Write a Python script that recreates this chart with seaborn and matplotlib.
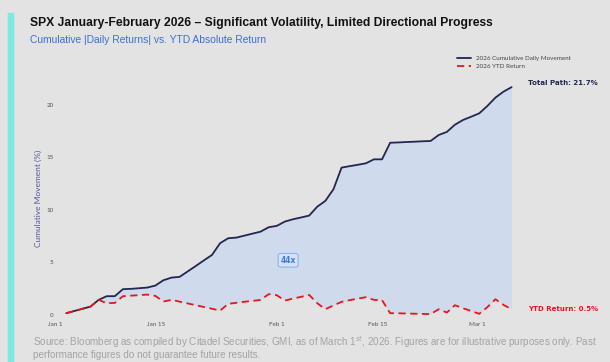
import numpy as np
import pandas as pd
import matplotlib
matplotlib.use("Agg")
import matplotlib.pyplot as plt
import seaborn as sns

# --- data (one point per session) ---
cum_move = [0.16, 0.37, 0.58, 0.79, 1.43, 1.78, 1.78, 2.45, 2.48, 2.54,
            2.60, 2.79, 3.30, 3.55, 3.62, 4.14, 4.66, 5.19, 5.71, 6.83,
            7.30, 7.36, 7.55, 7.74, 7.93, 8.35, 8.48, 8.89, 9.11, 9.28,
            9.46, 10.31, 10.86, 11.97, 14.03, 14.17, 14.30, 14.44, 14.82, 14.82,
            16.40, 16.43, 16.47, 16.50, 16.54, 16.57, 17.14, 17.43, 18.12, 18.57,
            18.88, 19.20, 19.90, 20.70, 21.27, 21.70]
ytd_ret = [0.16, 0.37, 0.58, 0.79, 1.43, 1.11, 1.14, 1.78, 1.83, 1.88,
           1.93, 1.81, 1.27, 1.43, 1.26, 1.09, 0.92, 0.75, 0.58, 0.41,
           1.05, 1.15, 1.25, 1.33, 1.43, 1.97, 1.87, 1.36, 1.55, 1.72,
           1.90, 1.11, 0.54, 0.90, 1.24, 1.40, 1.55, 1.68, 1.43, 1.40,
           0.16, 0.15, 0.13, 0.11, 0.09, 0.07, 0.54, 0.22, 0.92, 0.63,
           0.37, 0.10, 0.73, 1.49, 0.95, 0.54]
tick_pos = [-1.32, 11.04, 26.0, 38.5, 50.8]
tick_labels = ["Jan 1", "Jan 15", "Feb 1", "Feb 15", "Mar 1"]
y_ticks = [0, 5, 10, 15, 20]
ratio_label = "44x"

df = pd.DataFrame({"idx": np.arange(len(cum_move)), "cum": cum_move, "ytd": ytd_ret})

BG = "#e3e3e3"
NAVY = "#23264f"
RED = "#e8161b"

sns.set_theme(style="white")
plt.rcParams["font.family"] = ["Liberation Sans", "DejaVu Sans"]

fig = plt.figure(figsize=(6.1, 3.62), dpi=100, facecolor=BG)
ax = fig.add_axes([0.090, 0.1215, 0.754, 0.661])
ax.set_facecolor(BG)

# shaded gap between the two series
ax.fill_between(df["idx"], df["ytd"], df["cum"], color="#c9d7f0", alpha=0.75, lw=0)

sns.lineplot(data=df, x="idx", y="cum", ax=ax, color=NAVY, lw=1.3,
             label="2026 Cumulative Daily Movement", legend=False)
sns.lineplot(data=df, x="idx", y="ytd", ax=ax, color=RED, lw=1.3,
             linestyle=(0, (4, 2.5)), label="2026 YTD Return", legend=False)

ax.set_xlim(-1.4, 55.4)
ax.set_ylim(-0.3, 22.5)
for s in ax.spines.values():
    s.set_visible(False)

ax.set_xticks(tick_pos)
ax.set_xticklabels(tick_labels, family="Lato", fontsize=4.5, color="#555555")
ax.set_yticks(y_ticks)
ax.set_yticklabels([str(t) for t in y_ticks], family="Lato", fontsize=4.5, color="#555555")
ax.tick_params(axis="x", length=0, pad=3)
ax.tick_params(axis="y", length=0, pad=1)
ax.set_xlabel("")
ax.set_ylabel("Cumulative Movement (%)", family="Lato", fontsize=6, color="#55559a", labelpad=3)

handles, labels = ax.get_legend_handles_labels()
leg = fig.legend(handles, labels, loc="upper left", bbox_to_anchor=(0.745, 0.852), frameon=False,
                 prop={"family": "Lato", "size": 4.5}, handlelength=2.3,
                 labelspacing=0.3, handletextpad=0.8, borderaxespad=0)
for t in leg.get_texts():
    t.set_color("#444444")

last = len(cum_move) - 1
ax.annotate(f"Total Path: {cum_move[-1]:.1f}%", (last, cum_move[-1]), xytext=(12, 1),
            textcoords="offset points", fontsize=5, fontweight="bold", family="DejaVu Sans",
            color=NAVY, va="bottom", annotation_clip=False)
ax.annotate(f"YTD Return: {ytd_ret[-1]:.1f}%", (last, ytd_ret[-1]), xytext=(12, 0),
            textcoords="offset points", fontsize=5, fontweight="bold", family="DejaVu Sans",
            color=RED, va="center", annotation_clip=False)

ax.text(27.4, 5.2, ratio_label, fontsize=5.5, fontweight="bold", family="DejaVu Sans",
        color="#3b7be6", ha="center", va="center",
        bbox=dict(boxstyle="round,pad=0.3", fc="#d6e2f7", ec="#8fb2f0", lw=0.8))

# header
fig.patches.append(plt.Rectangle((0.013, 0.0), 0.008, 0.965, transform=fig.transFigure,
                                 color="#7ee8e2", zorder=5))
fig.text(0.049, 0.937, "SPX January-February 2026 \u2013 Significant Volatility, Limited Directional Progress",
         fontsize=8.7, fontweight="bold", color="#111111", va="center")
fig.text(0.049, 0.889, "Cumulative |Daily Returns| vs. YTD Absolute Return",
         fontsize=7.4, color="#3a6fd8", va="center")

fig.text(0.054, 0.056, "Source: Bloomberg as compiled by Citadel Securities, GMI, as of March 1$^{st}$, 2026. "
         "Figures are for illustrative purposes only. Past", fontsize=7.1, color="#a3a3a3", va="center")
fig.text(0.054, 0.019, "performance figures do not guarantee future results.",
         fontsize=7.1, color="#a3a3a3", va="center")

fig.savefig("out.png", dpi=100, facecolor=BG)
